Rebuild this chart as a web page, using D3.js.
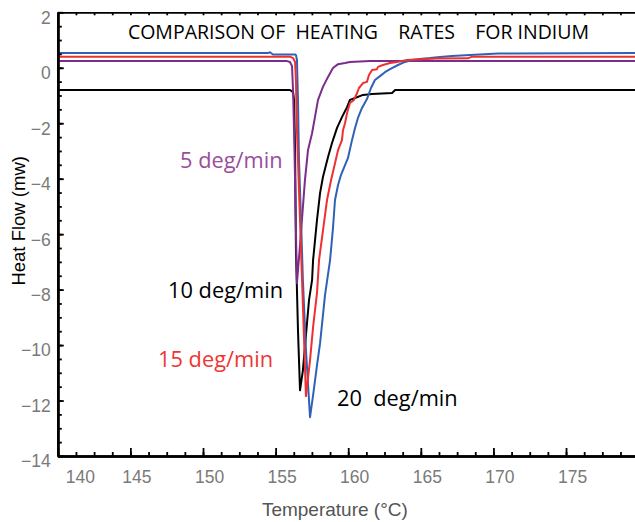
<!DOCTYPE html>
<html>
<head>
<meta charset="utf-8">
<script src="https://cdn.jsdelivr.net/npm/d3@7"></script>
<style>
  html, body { margin: 0; padding: 0; background: #fff; }
  svg { display: block; }
</style>
</head>
<body>
<svg id="chart" width="635" height="522"></svg>
<script>
// ---------------- DATA ----------------
const xTicks = [140, 145, 150, 155, 160, 165, 170, 175];
const yTicks = [2, 0, -2, -4, -6, -8, -10, -12, -14];

// 5 deg/min (purple)
const temp5 = [140, 155.79, 155.99, 156.13, 156.20, 156.27, 156.34, 156.40, 156.47, 156.68, 156.88, 157.02, 157.16, 157.23, 157.51, 157.71, 157.92, 158.26, 158.61, 158.95, 159.30, 159.78, 160.12, 161.50, 179.75];
const flow5 = [0.24, 0.24, 0.21, 0.06, -0.80, -2.25, -4.05, -5.85, -7.77, -6.40, -5.02, -4.05, -3.33, -2.97, -2.36, -1.78, -1.16, -0.69, -0.33, -0.01, 0.13, 0.17, 0.21, 0.24, 0.24];

// 10 deg/min (black)
const temp10 = [140, 155.99, 156.20, 156.27, 156.34, 156.40, 156.54, 156.68, 156.88, 157.09, 157.30, 157.51, 157.58, 157.85, 158.06, 158.26, 158.61, 158.88, 159.23, 159.57, 159.92, 160.12, 160.47, 161.02, 161.64, 163.02, 163.23, 179.75];
const flow10 = [-0.80, -0.80, -0.88, -1.16, -2.97, -6.58, -9.46, -11.63, -10.91, -9.64, -8.38, -7.66, -6.94, -5.49, -4.52, -3.94, -3.22, -2.72, -2.17, -1.78, -1.42, -1.16, -1.09, -0.98, -0.95, -0.91, -0.80, -0.80];

// 15 deg/min (red)
const temp15 = [140, 155.99, 156.20, 156.34, 156.40, 156.47, 156.54, 156.68, 156.82, 156.96, 157.09, 157.37, 157.58, 157.85, 157.99, 158.54, 158.82, 159.09, 159.30, 159.57, 159.64, 159.78, 159.92, 160.12, 160.40, 160.61, 160.74, 161.02, 161.29, 161.43, 161.64, 161.98, 162.05, 162.39, 162.88, 163.36, 164.05, 166.12, 168.25, 168.53, 179.75];
const flow15 = [0.40, 0.40, 0.35, 0.21, -0.44, -2.25, -3.33, -5.49, -7.66, -9.82, -11.84, -10.54, -9.35, -8.12, -6.94, -4.77, -4.05, -3.44, -2.97, -2.61, -2.25, -2.00, -1.63, -1.27, -1.16, -0.91, -0.73, -0.55, -0.51, -0.26, -0.08, -0.05, 0.03, 0.10, 0.17, 0.21, 0.28, 0.33, 0.34, 0.40, 0.40];

// 20 deg/min (blue)
const temp20 = [140, 154.47, 154.61, 154.82, 156.34, 156.40, 156.47, 156.54, 156.61, 156.75, 156.88, 157.09, 157.37, 157.58, 157.85, 158.06, 158.40, 158.75, 158.95, 159.09, 159.30, 159.50, 159.78, 159.98, 160.26, 160.47, 160.67, 160.95, 161.29, 161.57, 161.84, 162.19, 162.53, 162.88, 163.43, 163.91, 164.39, 164.94, 165.63, 166.32, 167.15, 168.39, 170.32, 179.75];
const flow20 = [0.53, 0.53, 0.56, 0.48, 0.48, 0.46, 0.28, -1.16, -3.33, -5.49, -7.66, -10.18, -12.60, -11.81, -10.73, -9.94, -8.21, -6.94, -5.78, -4.77, -4.23, -3.87, -3.51, -3.26, -2.61, -2.17, -1.81, -1.45, -1.13, -0.73, -0.44, -0.30, -0.16, -0.05, 0.10, 0.21, 0.28, 0.32, 0.35, 0.39, 0.42, 0.46, 0.51, 0.53];

const seriesNames = ["5 deg/min", "10 deg/min", "15 deg/min", "20  deg/min"];
const titleText = "COMPARISON OF  HEATING    RATES    FOR INDIUM";
const xTitle = "Temperature (°C)";
const yTitle = "Heat Flow (mw)";

// ---------------- CHART ----------------
const svg = d3.select("#chart");
const x = d3.scaleLinear().domain([140, 179.75]).range([57.8, 635]);
const y = d3.scaleLinear().domain([-14, 2]).range([456, 12.3]);

const series = [
  {t: temp5,  v: flow5,  color: "#7a2d8c"},
  {t: temp10, v: flow10, color: "#000000"},
  {t: temp15, v: flow15, color: "#ee3030"},
  {t: temp20, v: flow20, color: "#2f62b6"}
];
const drawOrder = [1, 0, 3, 2];

const line = d3.line().x(d => x(d[0])).y(d => y(d[1]));
drawOrder.forEach(i => {
  const s = series[i];
  svg.append("path")
    .datum(s.t.map((t, k) => [t, s.v[k]]))
    .attr("d", line)
    .attr("fill", "none")
    .attr("stroke", s.color)
    .attr("stroke-width", 2)
    .attr("stroke-linejoin", "round");
});

// minor ticks
const xMinor = d3.range(140, 180, 1.25);
const yMinor = d3.range(-14, 2.01, 0.5);

// bottom axis
const gxMinor = svg.append("g").attr("transform", `translate(0,${y(-14)})`)
  .call(d3.axisBottom(x).tickValues(xMinor).tickFormat("").tickSizeInner(-4).tickSizeOuter(0));
const gx = svg.append("g").attr("transform", `translate(0,${y(-14)})`)
  .call(d3.axisBottom(x).tickValues(xTicks).tickFormat(d3.format("d")).tickSizeInner(-8).tickSizeOuter(0).tickPadding(15));
// top border
const gtop = svg.append("g").attr("transform", `translate(0,${y(2)})`)
  .call(d3.axisTop(x).tickValues(xMinor).tickFormat("").tickSizeInner(-3).tickSizeOuter(0));
// left axis
const gyMinor = svg.append("g").attr("transform", `translate(${x(140)},0)`)
  .call(d3.axisLeft(y).tickValues(yMinor).tickFormat("").tickSizeInner(-4).tickSizeOuter(0));
const gy = svg.append("g").attr("transform", `translate(${x(140)},0)`)
  .call(d3.axisLeft(y).tickValues(yTicks).tickFormat(d3.format("d")).tickSizeInner(-6).tickSizeOuter(0).tickPadding(7));

[gxMinor, gx, gyMinor, gy, gtop].forEach(g => {
  g.selectAll(".tick line").attr("stroke", "#000").attr("stroke-width", 1.8);
  g.select(".domain").attr("stroke", "#000");
});
gx.select(".domain").attr("stroke-width", 2.6);
gy.select(".domain").attr("stroke-width", 2.6);
gxMinor.select(".domain").attr("stroke-width", 2.6);
gyMinor.select(".domain").attr("stroke-width", 2.6);
gtop.select(".domain").attr("stroke-width", 1.8);

gx.selectAll(".tick text")
  .attr("font-family", "'Liberation Sans', Arial, sans-serif")
  .attr("font-size", 17.5).attr("fill", "#7a7a7a")
  .attr("dx", (d, i) => i === 0 ? 22 : 6);
gy.selectAll(".tick text")
  .attr("font-family", "'Liberation Sans', Arial, sans-serif")
  .attr("font-size", 17.5).attr("fill", "#7a7a7a")
  .attr("dy", "0.62em");

// axis titles
svg.append("text")
  .attr("x", x(159.08)).attr("y", 516)
  .attr("text-anchor", "middle")
  .attr("font-family", "'Liberation Sans', Arial, sans-serif")
  .attr("font-size", 19).attr("fill", "#555")
  .text(xTitle);
svg.append("text")
  .attr("transform", `translate(25,${y(-5.52)}) rotate(-90)`)
  .attr("text-anchor", "middle")
  .attr("font-family", "'Liberation Sans', Arial, sans-serif")
  .attr("font-size", 18.5).attr("fill", "#000")
  .text(yTitle);

// title
svg.append("text")
  .attr("x", x(144.83)).attr("y", y(1.04))
  .attr("xml:space", "preserve").style("white-space", "pre")
  .attr("font-family", "'Open Sans', sans-serif")
  .attr("font-size", 19.5).attr("fill", "#000")
  .text(titleText);

// series labels
const labelColors = ["#9a4d9c", "#000000", "#ee3535", "#000000"];
const labelT = [148.42, 147.59, 146.90, 159.23];
const labelV = [-3.62, -8.31, -10.80, -12.20];
seriesNames.forEach((name, i) => {
  svg.append("text")
    .attr("x", x(labelT[i])).attr("y", y(labelV[i]))
    .attr("xml:space", "preserve").style("white-space", "pre")
    .attr("font-family", "'Open Sans', sans-serif")
    .attr("font-size", 21.8).attr("fill", labelColors[i])
    .text(name);
});
</script>
</body>
</html>
